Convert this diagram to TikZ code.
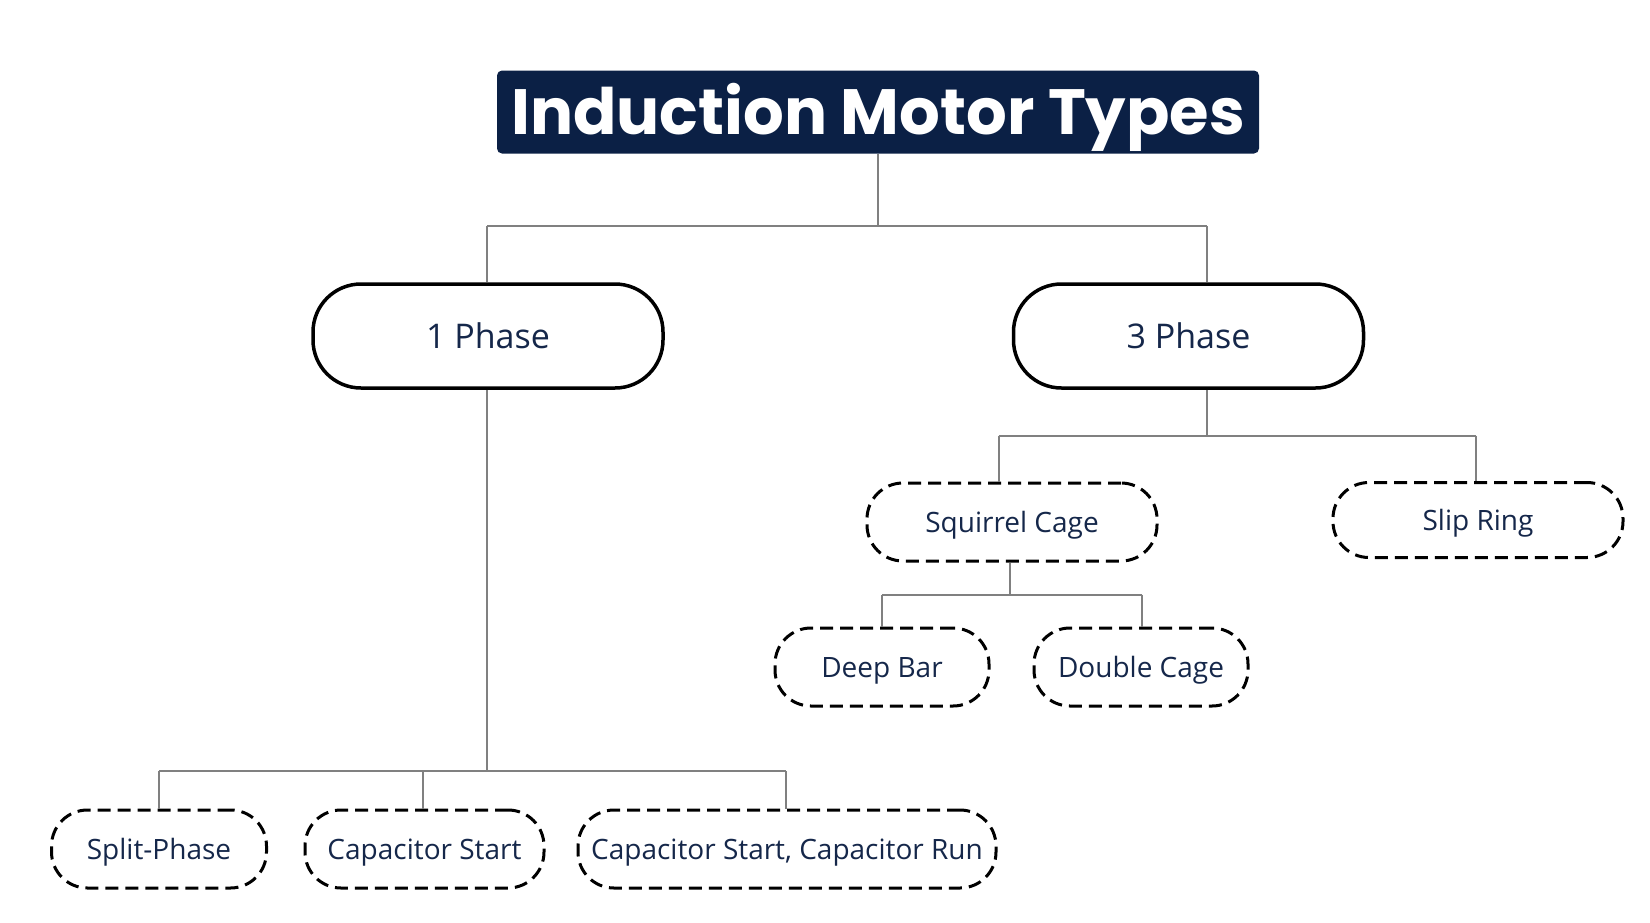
\documentclass[tikz,border=0pt]{standalone}
\usepackage{fontspec}
\setmainfont{Open Sans}
\newfontfamily\titlefont{Poppins}
\definecolor{navy}{HTML}{0B2045}
\definecolor{txt}{HTML}{15274A}
\definecolor{linegray}{HTML}{808080}
\tikzset{
  conn/.style={draw=linegray, line width=2pt},
  titlebox/.style={fill=navy, rounded corners=5pt, minimum width=762pt, minimum height=83pt, inner sep=0pt, text height=45pt, text depth=0pt, text=white, font=\titlefont\bfseries\fontsize{64}{64}\selectfont},
  bigbox/.style={draw=black, line width=3.5pt, fill=white, rounded corners=48pt, minimum width=350pt, minimum height=104pt, inner sep=0pt, text height=24.3pt, text depth=0pt, text=txt, font=\fontsize{34}{34}\selectfont},
  smallbox/.style={draw=black, line width=3pt, dash pattern=on 13pt off 7pt, fill=white, rounded corners=36pt, minimum height=78pt, inner sep=0pt, text height=20pt, text depth=0pt, text=txt, font=\fontsize{28}{28}\selectfont},
}
\begin{document}
\begin{tikzpicture}[x=1pt,y=-1pt]
\useasboundingbox (0,0) rectangle (1650,922);
\node[titlebox] (title) at (878,112) {Induction Motor Types};
\node[bigbox] (p1) at (488,336) {1 Phase};
\node[bigbox] (p3) at (1188.5,336) {3 Phase};
\node[smallbox, minimum width=290pt] (sq) at (1012,522) {Squirrel Cage};
\node[smallbox, minimum width=290pt, minimum height=75pt] (sr) at (1478,520) {Slip Ring};
\node[smallbox, minimum width=214pt] (db) at (882,667) {Deep Bar};
\node[smallbox, minimum width=214pt] (dc) at (1141,667) {Double Cage};
\node[smallbox, minimum width=215pt] (sp) at (159,849) {Split-Phase};
\node[smallbox, minimum width=239pt] (cs) at (424.5,849) {Capacitor Start};
\node[smallbox, minimum width=418pt] (cr) at (787,849) {Capacitor Start, Capacitor Run};
% level 1
\coordinate (j1) at (878,226);
\coordinate (j1l) at (487,226);
\coordinate (j1r) at (1207,226);
\draw[conn] (title.south) -- (j1);
\draw[conn] (j1l) -- (j1r);
\draw[conn] (j1l) -- (j1l |- p1.north);
\draw[conn] (j1r) -- (j1r |- p3.north);
% 1 phase
\coordinate (j2) at (487,771);
\coordinate (j2l) at (159,771);
\coordinate (j2m) at (423,771);
\coordinate (j2r) at (786,771);
\draw[conn] (p1.south -| j2) -- (j2);
\draw[conn] (j2l) -- (j2r);
\draw[conn] (j2l) -- (j2l |- sp.north);
\draw[conn] (j2m) -- (j2m |- cs.north);
\draw[conn] (j2r) -- (j2r |- cr.north);
% 3 phase
\coordinate (j3) at (1207,435.5);
\coordinate (j3l) at (998.5,435.5);
\coordinate (j3r) at (1476,435.5);
\draw[conn] (p3.south -| j3) -- (j3);
\draw[conn] (j3l) -- (j3r);
\draw[conn] (j3l) -- (j3l |- sq.north);
\draw[conn] (j3r) -- (j3r |- sr.north);
% squirrel cage
\coordinate (j4) at (1010,594.5);
\coordinate (j4l) at (882,594.5);
\coordinate (j4r) at (1142,594.5);
\draw[conn] (sq.south -| j4) -- (j4);
\draw[conn] (j4l) -- (j4r);
\draw[conn] (j4l) -- (j4l |- db.north);
\draw[conn] (j4r) -- (j4r |- dc.north);
\end{tikzpicture}
\end{document}
